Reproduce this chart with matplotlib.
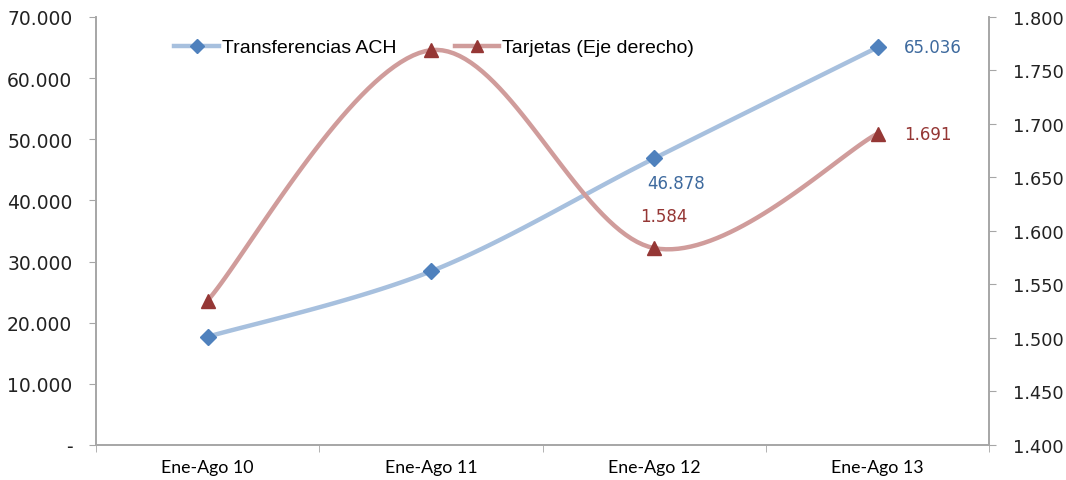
import numpy as np
import matplotlib.pyplot as plt
from matplotlib.lines import Line2D

categorias = ['Ene-Ago 10', 'Ene-Ago 11', 'Ene-Ago 12', 'Ene-Ago 13']
ach = [17700, 28400, 46878, 65036]
tarjetas = [1.535, 1.769, 1.584, 1.691]
etiquetas_ach = {2: '46.878', 3: '65.036'}
etiquetas_tar = {2: '1.584', 3: '1.691'}

AZUL_L, AZUL_M = '#A7C0DE', '#4F81BD'
ROJO_L, ROJO_M = '#D09C9B', '#953735'
GRIS = '#A6A6A6'


def suavizar(x, y, n=40):
    # curva tipo Excel: bezier cubica con tangentes Catmull-Rom
    x = np.asarray(x, float)
    y = np.asarray(y, float)
    px = np.concatenate([[x[0]], x, [x[-1]]])
    py = np.concatenate([[y[0]], y, [y[-1]]])
    xs, ys = [], []
    t = np.linspace(0, 1, n)
    for i in range(1, len(px) - 2):
        p0 = np.array([px[i], py[i]])
        p3 = np.array([px[i + 1], py[i + 1]])
        c1 = p0 + (np.array([px[i + 1], py[i + 1]]) - np.array([px[i - 1], py[i - 1]])) / 6
        c2 = p3 - (np.array([px[i + 2], py[i + 2]]) - np.array([px[i], py[i]])) / 6
        b = ((1 - t) ** 3)[:, None] * p0 + (3 * (1 - t) ** 2 * t)[:, None] * c1 \
            + (3 * (1 - t) * t ** 2)[:, None] * c2 + (t ** 3)[:, None] * p3
        xs.extend(b[:, 0])
        ys.extend(b[:, 1])
    return np.array(xs), np.array(ys)


fig = plt.figure(figsize=(10.66, 4.81), dpi=100)
ax = fig.add_axes([0.090, 0.0728, 0.838, 0.8898])
ax2 = ax.twinx()

x = np.arange(len(categorias))
sx, sy = suavizar(x, ach)
ax.plot(sx, sy, color=AZUL_L, lw=3.2, solid_capstyle='round', zorder=2)
ax.plot(x, ach, ls='none', marker='D', ms=8, color=AZUL_M, zorder=3)

tx, ty = suavizar(x, tarjetas)
ax2.plot(tx, ty, color=ROJO_L, lw=3.2, solid_capstyle='round', zorder=2)
ax2.plot(x, tarjetas, ls='none', marker='^', ms=10, color=ROJO_M, zorder=3)

ax.set_xlim(-0.5, 3.5)
ax.set_ylim(0, 70000)
ax2.set_ylim(1.4, 1.8)
ax.set_yticks(np.arange(0, 70001, 10000))
ax.set_yticklabels(['-'] + ['{:,.0f}'.format(v).replace(',', '.') for v in range(10000, 70001, 10000)])
ax2.set_yticks(np.arange(1.4, 1.8001, 0.05))
ax2.set_yticklabels(['{:.3f}'.format(v) for v in np.arange(1.4, 1.8001, 0.05)])
ax.set_xticks(x)
ax.set_xticklabels(categorias, fontsize=12.8, family='Lato')
ax.set_xticks(np.arange(-0.5, 3.6, 1), minor=True)
ax.tick_params(axis='x', which='major', length=0, pad=10)
ax.tick_params(axis='x', which='minor', length=5, color=GRIS)

for a in (ax, ax2):
    a.spines['top'].set_visible(False)
    for s in ('left', 'right', 'bottom'):
        a.spines[s].set_color(GRIS)
        a.spines[s].set_linewidth(1.2)
ax.tick_params(axis='y', length=5, color=GRIS, labelsize=13.5, pad=12, labelcolor='#222222')
ax2.tick_params(axis='y', length=5, color=GRIS, labelsize=12.8, pad=12, labelcolor='#222222')

for i, t in etiquetas_ach.items():
    if i == 3:
        ax.annotate(t, (x[i], ach[i]), xytext=(19, 0), textcoords='offset points',
                    va='center', ha='left', color='#3E6A9E', fontsize=12)
    else:
        ax.annotate(t, (x[i], ach[i]), xytext=(-5, -18), textcoords='offset points',
                    va='center', ha='left', color='#3E6A9E', fontsize=12)
for i, t in etiquetas_tar.items():
    if i == 3:
        ax2.annotate(t, (x[i], tarjetas[i]), xytext=(19, 0), textcoords='offset points',
                     va='center', ha='left', color=ROJO_M, fontsize=12)
    else:
        ax2.annotate(t, (x[i], tarjetas[i]), xytext=(-10, 23), textcoords='offset points',
                     va='center', ha='left', color=ROJO_M, fontsize=12)

h1 = Line2D([], [], color=AZUL_L, lw=3.2, marker='D', ms=7, mfc=AZUL_M, mec=AZUL_M)
h2 = Line2D([], [], color=ROJO_L, lw=3.2, marker='^', ms=9, mfc=ROJO_M, mec=ROJO_M)
ax.legend([h1, h2], ['Transferencias ACH', 'Tarjetas (Eje derecho)'], ncol=2,
          loc='upper left', bbox_to_anchor=(0.068, 0.99), frameon=False,
          prop={'family': ['Liberation Sans Narrow', 'Liberation Sans'], 'size': 14},
          handlelength=2.3, handletextpad=0.15, columnspacing=3.0)

fig.savefig('out.png', dpi=100)
